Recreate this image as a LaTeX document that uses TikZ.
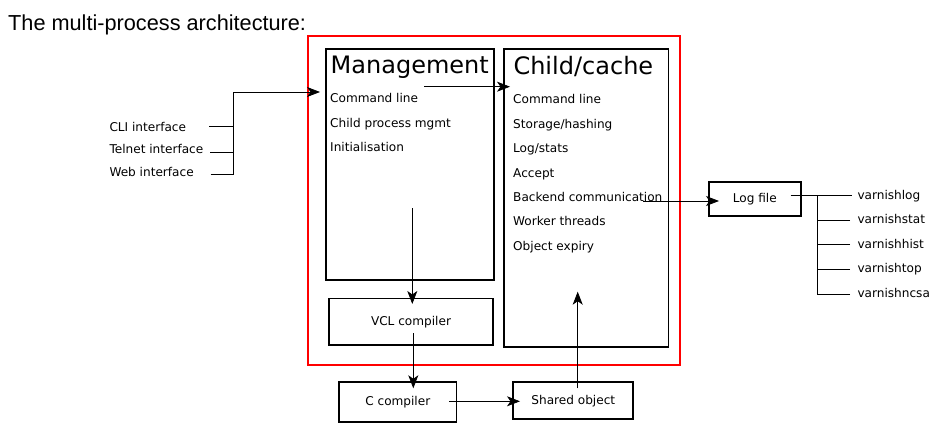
\documentclass[tikz,border=0pt]{standalone}
\usepackage{fontspec}
\setmainfont{DejaVu Sans}
\newfontfamily\titlefont{Liberation Sans}
\usetikzlibrary{arrows.meta}
\usetikzlibrary{calc}

\tikzset{
	box/.style={draw, line width=1.7pt, inner sep=0pt, font=\fontsize{12.1}{14}\selectfont},
	frame/.style={draw=red, line width=1.9pt, inner sep=0pt},
	item/.style={anchor=base west, inner sep=0pt, font=\fontsize{12.1}{14}\selectfont},
	heading/.style={anchor=base west, inner sep=0pt, font=\fontsize{24}{28}\selectfont},
	conn/.style={line width=0.8pt},
	arr/.style={conn, -{Stealth[length=13pt, width=10pt, inset=3.5pt]}}
}

\begin{document}
\begin{tikzpicture}[x=1pt, y=-1pt]
	\useasboundingbox (0,0) rectangle (939,430);
	\node[anchor=base west, inner sep=0pt, font=\titlefont\fontsize{21.7}{26}\selectfont] (title) at (8,30.7) {The multi-process architecture:};

	% processes
	\node[frame, minimum width=371.7pt, minimum height=329pt] (varnishd) at (494.2,200.5) {};
	\node[box, minimum width=168pt, minimum height=230.7pt] (mgmt) at (410,164.7) {};
	\node[box, minimum width=164.3pt, minimum height=297.4pt] (child) at (586.2,198) {};
	\node[box, minimum width=163.4pt, minimum height=46.7pt] (vcl) at (411,321.7) {VCL compiler};
	\node[box, minimum width=117.4pt, minimum height=40pt] (cc) at (397.8,402.3) {C compiler};
	\node[box, minimum width=120pt, minimum height=37pt] (so) at (573.3,400.8) {Shared object};
	\node[box, minimum width=91.7pt, minimum height=33.4pt] (log) at (754.8,199) {Log file};

	% management
	\node[heading] (mgmttitle) at (330.5,73.3) {Management};
	\node[item] (mcmd) at (330,102.7) {Command line};
	\node[item] (mchild) at (330,127.3) {Child process mgmt};
	\node[item] (minit) at (330,151.7) {Initialisation};

	% child/cache
	\node[heading] (childtitle) at (513.3,74.3) {Child/cache};
	\node[item] (ccmd) at (513,104) {Command line};
	\node[item] (cstore) at (513,128.4) {Storage/hashing};
	\node[item] (cstats) at (513,152.8) {Log/stats};
	\node[item] (caccept) at (513,177.2) {Accept};
	\node[item] (cbackend) at (513,201.6) {Backend communication};
	\node[item] (cworker) at (513,226) {Worker threads};
	\node[item] (cexpiry) at (513,250.4) {Object expiry};

	% interfaces
	\node[item] (cli) at (109.3,131.7) {CLI interface};
	\node[item] (telnet) at (109.3,154) {Telnet interface};
	\node[item] (web) at (109.3,176.7) {Web interface};

	% tools
	\node[item] (vlog) at (857.3,199.3) {varnishlog};
	\node[item] (vstat) at (857.3,224) {varnishstat};
	\node[item] (vhist) at (857.3,248.7) {varnishhist};
	\node[item] (vtop) at (857.3,272.7) {varnishtop};
	\node[item] (vncsa) at (857.3,297.3) {varnishncsa};

	% connector ends
	\coordinate (cliout) at (209.3,126.7);
	\coordinate (telnetout) at (210,152.3);
	\coordinate (webout) at (210.7,174);
	\coordinate (ifbus) at (233,92);
	\coordinate (mgmtin) at (320,92);
	\coordinate (mgmtout) at (424,86.7);
	\coordinate (childin) at (510,86.7);
	\coordinate (mgmtdown) at (412.3,208.3);
	\coordinate (vclin) at (412.3,304);
	\coordinate (vclout) at (413.3,333.3);
	\coordinate (ccin) at (413.3,388.3);
	\coordinate (ccout) at (449.3,401.3);
	\coordinate (soin) at (520,401.3);
	\coordinate (soout) at (577.7,388.3);
	\coordinate (childup) at (577.7,291.7);
	\coordinate (backendout) at (643.3,201);
	\coordinate (login) at (719,201);
	\coordinate (logout) at (790.7,195);
	\coordinate (toolbus) at (817.3,195);

	% connectors
	\draw[conn] (cliout) -- (cliout -| ifbus);
	\draw[conn] (telnetout) -- (telnetout -| ifbus);
	\draw[arr] (webout) -| (ifbus) -- (mgmtin);
	\draw[arr] (mgmtout) -- (childin);
	\draw[arr] (mgmtdown) -- (vclin);
	\draw[arr] (vclout) -- (ccin);
	\draw[arr] (ccout) -- (soin);
	\draw[arr] (soout) -- (childup);
	\draw[arr] (backendout) -- (login);
	\draw[conn] (logout) -- ($(vlog.base west)+(-5.6,-4.3)$);
	\draw[conn] ($(vstat.base west)+(-7.3,-3.3)$) -| (toolbus);
	\draw[conn] ($(vhist.base west)+(-7.3,-4.7)$) -| (toolbus);
	\draw[conn] ($(vtop.base west)+(-7.3,-3.7)$) -| (toolbus);
	\draw[conn] ($(vncsa.base west)+(-7.3,-3.3)$) -| (toolbus);
\end{tikzpicture}
\end{document}
